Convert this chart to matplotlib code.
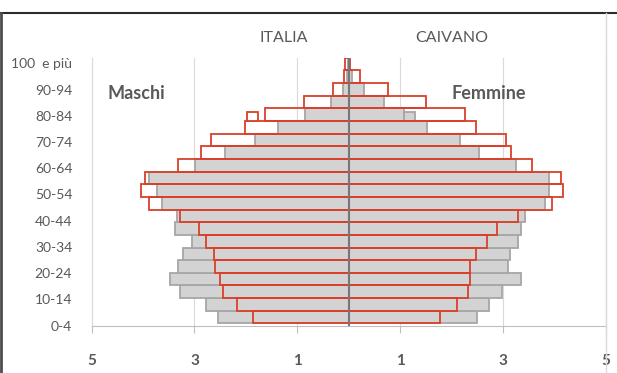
import matplotlib
matplotlib.use("Agg")
import matplotlib.pyplot as plt
from matplotlib.lines import Line2D
import numpy as np

plt.rcParams['font.family'] = ['Lato', 'DejaVu Sans']

# Age classes, bottom to top
age_groups = ["0-4", "5-9", "10-14", "15-19", "20-24", "25-29", "30-34", "35-39",
              "40-44", "45-49", "50-54", "55-59", "60-64", "65-69", "70-74",
              "75-79", "80-84", "85-89", "90-94", "95-99", "100  e più"]

# Share of population (%) by age class and sex
italia_maschi = [2.54, 2.77, 3.28, 3.48, 3.33, 3.22, 3.04, 3.38, 3.34, 3.63, 3.72,
                 3.88, 2.99, 2.40, 1.82, 1.37, 0.85, 0.34, 0.11, 0.04, 0.02]
italia_femmine = [2.49, 2.72, 2.98, 3.36, 3.10, 3.13, 3.30, 3.36, 3.43, 3.82, 3.89,
                  3.90, 3.25, 2.54, 2.16, 1.53, 1.07, 0.69, 0.30, 0.06, 0.01]
caivano_maschi = [1.86, 2.18, 2.45, 2.51, 2.60, 2.63, 2.77, 2.91, 3.28, 3.89, 4.04,
                  3.96, 3.33, 2.88, 2.67, 2.01, 1.63, 0.86, 0.31, 0.09, 0.08]
caivano_femmine = [1.77, 2.10, 2.33, 2.36, 2.36, 2.48, 2.69, 2.89, 3.30, 3.95, 4.16,
                   4.13, 3.56, 3.16, 3.06, 2.47, 2.27, 1.51, 0.77, 0.22, 0.02]

# Small extra segments on the 80-84 row (start, end in %)
caivano_m_extra = (1.77, 1.97)
italia_f_extra = (1.07, 1.29)

x_ticks = [-5, -3, -1, 1, 3, 5]
x_tick_labels = ["5", "3", "1", "1", "3", "5"]

GRAY_FILL = "#d3d3d3"
GRAY_EDGE = "#a6a6a6"
RED = "#d9402b"
TEXT = "#595959"

W, H = 617, 373
fig = plt.figure(figsize=(W / 100, H / 100), dpi=100)
fig.patch.set_facecolor("white")

left_px, right_px, top_px, bottom_px = 91.7, 605.7, 57.7, 325.7
ax = fig.add_axes([left_px / W, 1 - bottom_px / H,
                   (right_px - left_px) / W, (bottom_px - top_px) / H])

y = np.arange(len(age_groups))

# Italia: filled grey bars
ax.barh(y, -np.array(italia_maschi), height=1.0, color=GRAY_FILL,
        edgecolor=GRAY_EDGE, linewidth=1.3, zorder=2)
ax.barh(y, italia_femmine, height=1.0, color=GRAY_FILL,
        edgecolor=GRAY_EDGE, linewidth=1.3, zorder=2)
ax.barh(16 - 0.15, italia_f_extra[1] - italia_f_extra[0], left=italia_f_extra[0],
        height=0.7, color=GRAY_FILL, edgecolor=GRAY_EDGE, linewidth=1.3, zorder=2)

# Caivano: red outlines
ax.barh(y, -np.array(caivano_maschi), height=1.0, facecolor="none",
        edgecolor=RED, linewidth=1.3, zorder=3)
ax.barh(y, caivano_femmine, height=1.0, facecolor="none",
        edgecolor=RED, linewidth=1.3, zorder=3)
ax.barh(16 - 0.15, -(caivano_m_extra[1] - caivano_m_extra[0]), left=-caivano_m_extra[0],
        height=0.7, color="white", edgecolor=RED, linewidth=1.3, zorder=3)

# Central axis
ax.axvline(0, color="#767676", linewidth=1.5, zorder=5)

ax.set_xlim(-5, 5)
ax.set_ylim(-0.5, len(age_groups) - 0.5)

ax.set_xticks(x_ticks)
ax.set_xticklabels(x_tick_labels, fontweight="bold", fontsize=11, color=TEXT)
ax.tick_params(axis="x", length=5, width=0.8, color="#bfbfbf", pad=15.5)
ax.grid(axis="x", color="#d9d9d9", linewidth=0.8, zorder=0)
ax.set_axisbelow(True)

# Age labels every second class
label_rows = np.arange(0, len(age_groups), 2)
label_pos = -0.68 + 1.037 * label_rows
ax.set_yticks(label_pos)
ax.set_yticklabels([age_groups[r] for r in label_rows], fontsize=10, color=TEXT)
ax.tick_params(axis="y", length=0, pad=14)

for side in ("top", "right"):
    ax.spines[side].set_visible(False)
ax.spines["left"].set_color("#d9d9d9")
ax.spines["left"].set_linewidth(0.8)
ax.spines["bottom"].set_color("#bfbfbf")
ax.spines["bottom"].set_linewidth(0.8)

# Headings
fig.text(284 / W, 1 - 38.5 / H, "ITALIA", ha="center", va="center",
         fontsize=11.5, color=TEXT)
fig.text(451.7 / W, 1 - 38.5 / H, "CAIVANO", ha="center", va="center",
         fontsize=11.5, color=TEXT)
fig.text(136.5 / W, 1 - 93.5 / H, "Maschi", ha="center", va="center",
         fontsize=13, fontweight="bold", color=TEXT)
fig.text(488.3 / W, 1 - 93.5 / H, "Femmine", ha="center", va="center",
         fontsize=13, fontweight="bold", color=TEXT)

# Frame lines around the chart
fig.add_artist(Line2D([0, 1], [1 - 12.5 / H, 1 - 12.5 / H], transform=fig.transFigure,
                      color="#2b2b2b", linewidth=1.5))
fig.add_artist(Line2D([1.2 / W, 1.2 / W], [0, 1 - 12.5 / H], transform=fig.transFigure,
                      color="#4d4d4d", linewidth=2.0))
fig.add_artist(Line2D([606 / W, 606 / W], [0, 1 - 13 / H], transform=fig.transFigure,
                      color="#d9d9d9", linewidth=1.0))

fig.savefig("out.png", dpi=100, facecolor="white")
